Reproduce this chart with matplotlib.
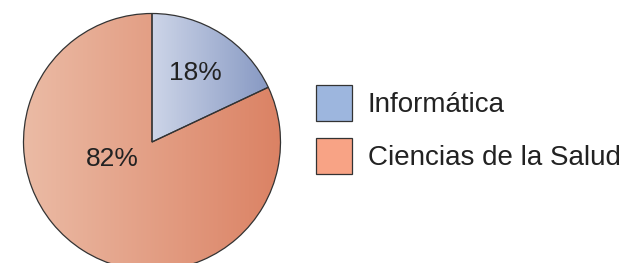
import matplotlib.pyplot as plt
import numpy as np
from matplotlib.colors import LinearSegmentedColormap
from matplotlib.patches import Patch

plt.rcParams['font.family'] = ['Liberation Sans', 'DejaVu Sans']

categorias = ["Informática", "Ciencias de la Salud"]
porcentajes = [18, 82]
etiquetas = ["18%", "82%"]
colores_leyenda = ["#9db6de", "#f8a385"]
# Verlauf je Sektor: links hell, rechts dunkel
verlaeufe = [("#cdd5e8", "#8799c3"), ("#ebbba5", "#db8264")]

fig = plt.figure(figsize=(6.26, 2.63), dpi=100)
W, H = 626, 263
cx, cy, r = 152, 121, 128.5
ax = fig.add_axes([(cx - r) / W, (cy - r) / H, 2 * r / W, 2 * r / H])

wedges, texts = ax.pie(porcentajes, startangle=90, counterclock=False,
                       radius=1, wedgeprops=dict(edgecolor="#333333", linewidth=0.9))

for w, (c0, c1) in zip(wedges, verlaeufe):
    ext = w.get_path().get_extents(w.get_patch_transform())
    cmap = LinearSegmentedColormap.from_list("g", [c0, c1])
    grad = np.linspace(0, 1, 256).reshape(1, -1)
    im = ax.imshow(grad, cmap=cmap, aspect="auto",
                   extent=[ext.x0, ext.x1, ext.y0, ext.y1], zorder=0.5)
    im.set_clip_path(w)
    w.set_facecolor("none")
    w.set_zorder(1)

ax.text(0.34, 0.54, etiquetas[0], fontsize=19, color="#222222", ha="center", va="center")
ax.text(-0.31, -0.13, etiquetas[1], fontsize=19, color="#222222", ha="center", va="center")

ax.set_xlim(-1, 1)
ax.set_ylim(-1, 1)
ax.set_aspect("equal")
ax.axis("off")

handles = [Patch(facecolor=c, edgecolor="#333333", linewidth=0.9) for c in colores_leyenda]
fig.legend(handles, categorias, loc="upper left", bbox_to_anchor=(316 / W, 1 - 85 / H),
           frameon=False, fontsize=20, handlelength=1.3, handleheight=1.62,
           handletextpad=0.56, labelspacing=0.62, borderpad=0, borderaxespad=0,
           labelcolor="#222222")

fig.savefig("out.png", dpi=100)
